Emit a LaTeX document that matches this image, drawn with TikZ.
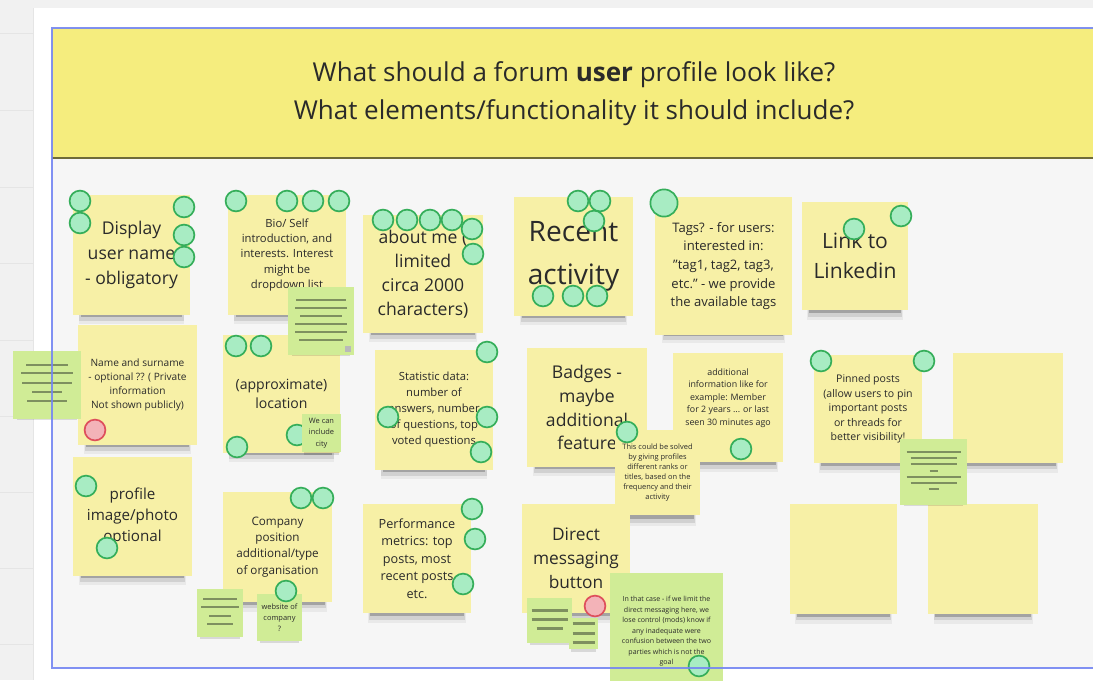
\documentclass[tikz,border=0pt]{standalone}
\usepackage{fontspec}
\setmainfont{Open Sans}
\usepackage{tikz}
\usetikzlibrary{shadows,positioning}

\definecolor{notey}{HTML}{F7F0A6}
\definecolor{headery}{HTML}{F5ED7E}
\definecolor{noteg}{HTML}{D0EC96}
\definecolor{memogray}{HTML}{7E905F}
\definecolor{votefill}{HTML}{A8ECC3}
\definecolor{votedraw}{HTML}{35AE5A}
\definecolor{downfill}{HTML}{F3B3B8}
\definecolor{downdraw}{HTML}{DE4F5C}
\definecolor{framebl}{HTML}{7486F2}
\definecolor{boardbg}{HTML}{F6F6F6}
\definecolor{stripbg}{HTML}{F1F1F1}
\definecolor{inkc}{HTML}{2A2A2A}

\tikzset{
  sticky/.style={fill=notey, inner sep=0pt, align=center, text=inkc,
    general shadow={shadow xshift=0pt, shadow yshift=-12pt, shadow scale=0.9, fill=black, opacity=0.05},
    general shadow={shadow xshift=0pt, shadow yshift=-10pt, shadow scale=0.89, fill=black, opacity=0.1},
    general shadow={shadow xshift=0pt, shadow yshift=-8pt, shadow scale=0.87, fill=black, opacity=0.22}},
  memo/.style={fill=noteg, inner sep=0pt, align=center, text=inkc,
    general shadow={shadow xshift=0pt, shadow yshift=-4pt, shadow scale=0.88, fill=black, opacity=0.12}},
  notesize/.style 2 args={minimum width=#1*0.025cm, minimum height=#2*0.025cm},
  fsize/.style 2 args={font=\fontsize{#1}{#2}\selectfont},
  vote/.style={circle, fill=votefill, draw=votedraw, line width=1.2pt, minimum size=0.52cm, inner sep=0pt},
  downvote/.style={vote, fill=downfill, draw=downdraw},
  memoline/.style={draw=memogray, line width=1.5pt}
}

\begin{document}
\begin{tikzpicture}[x=0.025cm, y=-0.025cm]
  \clip (0,0) rectangle (1093,680);

  % board and header
  \fill[white] (0,0) rectangle (1093,680);
  \fill[stripbg] (0,0) rectangle (1093,8);
  \fill[stripbg] (0,0) rectangle (33,680);
  \draw[gray!20] (33,8) -- (33,680);
  \foreach \gy in {33,110,187,263,340,416,492,568,644}
    \draw[gray!20] (0,\gy) -- (33,\gy);
  \fill[boardbg] (52,158) rectangle (1093,668);
  \fill[headery] (52,28) rectangle (1093,157);
  \draw[black!55!headery, line width=2pt] (52,158) -- (1093,158);
  \node[fsize={18.5}{27}, text=inkc, align=center] (heading) at (574,94)
    {What should a forum \textbf{user} profile look like?\\What elements/functionality it should include?};

  % yellow stickies, row 1
  \node[sticky, notesize={117}{120}, fsize={12.5}{17.8}] (display) at (131.5,255) {Display\\user name\\- obligatory};
  \node[sticky, notesize={118}{120}, fsize={8}{11}] (bio) at (287,255) {Bio/ Self\\introduction, and\\interests. Interest\\might be\\dropdown list};
  \node[sticky, notesize={120}{118}, fsize={12.5}{17}] (aboutme) at (423,274) {about me (\\limited\\circa 2000\\characters)};
  \node[sticky, notesize={119}{119}, fsize={20}{30.5}] (recent) at (573.5,256.5) {Recent\\activity};
  \node[sticky, notesize={137}{138}, fsize={9.3}{13.3}] (tags) at (723.5,266) {Tags? - for users:\\interested in:\\"tag1, tag2, tag3,\\etc." - we provide\\the available tags};
  \node[sticky, notesize={106}{108}, fsize={15}{21.3}] (linkedin) at (855,256) {Link to\\Linkedin};

  % row 2
  \node[sticky, notesize={119}{120}, fsize={7.2}{10}] (fullname) at (137.5,385) {Name and surname\\- optional ?? ( Private\\information\\Not shown publicly)};
  \node[sticky, notesize={117}{118}, fsize={10}{13}] (location) at (281.5,394) {(approximate)\\location};
  \node[sticky, notesize={118}{120}, fsize={8}{11.4}] (stats) at (434,410) {Statistic data:\\number of\\answers, number\\of questions, top\\voted questions};
  \node[sticky, notesize={120}{119}, fsize={12.5}{17}] (badges) at (587,407.5) {Badges -\\maybe\\additional\\feature};
  \node[sticky, notesize={110}{109}, fsize={6.3}{8.9}] (extrainfo) at (728,407.5) {additional\\information like for\\example: Member\\for 2 years ... or last\\seen 30 minutes ago\\[6pt]};
  \node[sticky, notesize={108}{108}, fsize={7.5}{10.4}] (pinned) at (868,409) {Pinned posts\\(allow users to pin\\important posts\\or threads for\\better visibility!};
  \node[sticky, notesize={110}{110}] (blank1) at (1008,408) {};
  \node[sticky, notesize={85}{85}, fsize={5.3}{7.1}] (ranks) at (657.5,472.5) {This could be solved\\by giving profiles\\different ranks or\\titles, based on the\\frequency and their\\activity};

  % row 3
  \node[sticky, notesize={119}{119}, fsize={10.8}{15.2}] (photo) at (132.5,516.5) {profile\\image/photo\\optional};
  \node[sticky, notesize={109}{110}, fsize={8.3}{11.6}] (company) at (277.5,547) {Company\\position\\additional/type\\of organisation};
  \node[sticky, notesize={108}{109}, fsize={9}{12.4}] (metrics) at (417,558.5) {Performance\\metrics: top\\posts, most\\recent posts\\etc.};
  \node[sticky, notesize={108}{109}, fsize={12.3}{17}] (direct) at (576,558.5) {Direct\\messaging\\button};
  \node[sticky, notesize={107}{110}] (blank2) at (843.5,559) {};
  \node[sticky, notesize={110}{110}] (blank3) at (983,559) {};

  % green comment notes
  \node[memo, notesize={68}{68}] (memoA) at (47,385) {};
  \node[memo, notesize={66}{68}] (memoB) at (321,321) {};
  \node[memo, notesize={46}{48}] (memoC) at (220,613) {};
  \node[memo, notesize={45}{47}, fsize={5.3}{7.8}] (website) at (279.5,617.5) {website of\\company\\?};
  \node[memo, notesize={67}{66}] (memoD) at (933.5,472) {};
  \node[memo, notesize={45}{45}] (memoE) at (549.5,620.5) {};
  \node[memo, notesize={29}{31}] (memoF) at (583.5,633.5) {};
  \node[memo, notesize={113}{117}, fsize={5}{7.5}] (dmnote) at (666.5,631.5) {In that case - if we limit the\\direct messaging here, we\\lose control (mods) know if\\any inadequate were\\confusion between the two\\parties which is not the\\goal};

  \foreach \dy/\hw in {-20/21,-12/26,-2/25,7/15,16/20}
    \draw[memoline] (memoA.center) ++(-\hw,\dy) -- ++(2*\hw,0);
  \foreach \dy/\hw in {-21/25,-13/26,-5/21,3/26,11/26,19/22}
    \draw[memoline] (memoB.center) ++(-\hw,\dy) -- ++(2*\hw,0);
  \fill[gray!55] (345,346) rectangle (351,352);
  \foreach \dy/\hw in {-14/17,-6/19,3/11,11/13}
    \draw[memoline] (memoC.center) ++(-\hw,\dy) -- ++(2*\hw,0);
  \foreach \dy/\hw in {-20/27,-14/23,-8/23,-1/4,5/27,11/23,17/5}
    \draw[memoline] (memoD.center) ++(-\hw,\dy) -- ++(2*\hw,0);
  \foreach \dy/\hw in {-10/18,-1/18,8/13}
    \draw[memoline] (memoE.center) ++(-\hw,\dy) -- ++(2*\hw,0);
  \foreach \dy/\hw in {-10/11,0/11,9/11}
    \draw[memoline] (memoF.center) ++(-\hw,\dy) -- ++(2*\hw,0);

  % voting dots
  \foreach \p [count=\i] in {(80,201),(80,223),(184,207),(184,235),(184,257),
      (236,201),(287,201),(313,201),(339,201),
      (383,220),(407,220),(430,220),(452,220),(472,229),(473,254),
      (578,201),(600,201),(594,221),(543,296),(573,296),(597,296),
      (854,229),(901,216),
      (236,346),(261,346),(237,447),(297,435),
      (487,352),(388,417),(487,417),(481,452),
      (627,432),(741,449),(821,361),(924,361),
      (86,486),(107,548),(301,498),(323,498),(286,591),
      (472,509),(475,539),(463,584),(699,666)}
    \node[vote] (dot\i) at \p {};
  \node[vote, minimum size=0.68cm] (bigdot) at (664,203) {};
  \node[downvote] (reddotA) at (95,430) {};
  \node[downvote] (reddotB) at (595,606) {};

  \node[memo, notesize={39}{38}, fsize={5.3}{8.3}] (cityhint) at (321.5,433) {We can\\include\\city};

  % frame of the board
  \draw[framebl, line width=1.8pt, opacity=0.9] (1100,28) -- (52,28) -- (52,668) -- (1100,668);
\end{tikzpicture}
\end{document}
